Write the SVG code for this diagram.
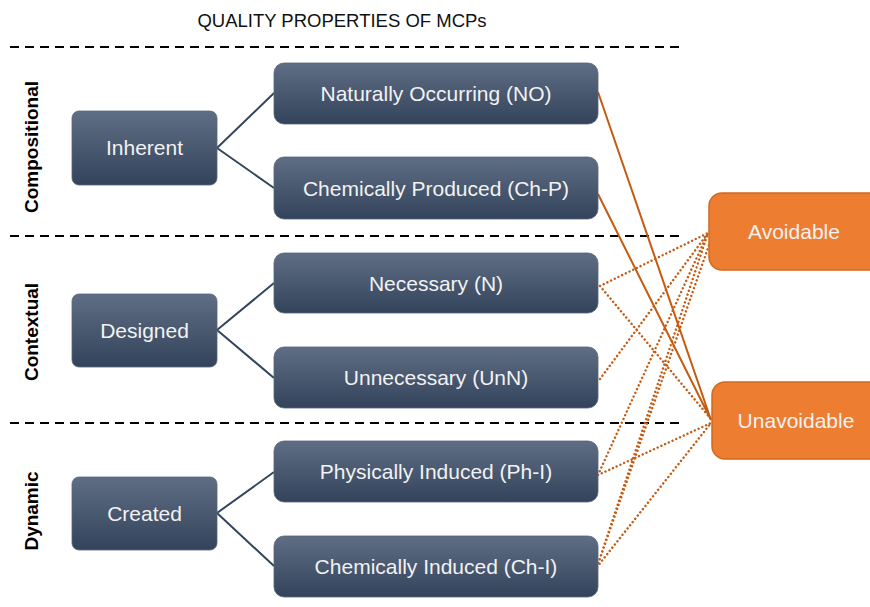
<svg xmlns="http://www.w3.org/2000/svg" width="870" height="607" viewBox="0 0 870 607">
<defs>
<linearGradient id="g" x1="0" y1="0" x2="0" y2="1">
<stop offset="0" stop-color="#5f6e84"/>
<stop offset="1" stop-color="#33435b"/>
</linearGradient>
<style>
.dk{fill:url(#g);stroke:#56657a;stroke-width:0.8}
.or{fill:#ed7d31;stroke:#d2691e;stroke-width:1.5}
.t{font-family:"Liberation Sans",Arial,sans-serif;font-size:21px;fill:#f2f2f2;text-anchor:middle}
.side{font-family:"Liberation Sans",Arial,sans-serif;font-size:19px;font-weight:bold;fill:#000;text-anchor:middle}
.dash{stroke:#000;stroke-width:2;stroke-dasharray:9 6;fill:none}
.tree{stroke:#34455e;stroke-width:2;fill:none}
.sol{stroke:#c55a11;stroke-width:2;fill:none}
.dot{stroke:#c55a11;stroke-width:2.4;stroke-dasharray:0.1 4;stroke-linecap:round;fill:none}
</style>
</defs>
<rect width="870" height="607" fill="#fff"/>
<text x="342" y="27" font-family="Liberation Sans,Arial,sans-serif" font-size="18.5" fill="#111" text-anchor="middle">QUALITY PROPERTIES OF MCPs</text>
<g id="separators">
<line class="dash" x1="10" y1="47" x2="680" y2="47"/>
<line class="dash" x1="10" y1="236" x2="682" y2="236"/>
<line class="dash" x1="10" y1="423" x2="680" y2="423"/>
</g>
<g id="side-labels">
<text class="side" transform="translate(38,147) rotate(-90)">Compositional</text>
<text class="side" transform="translate(38,332) rotate(-90)">Contextual</text>
<text class="side" transform="translate(38,511) rotate(-90)">Dynamic</text>
</g>
<g id="connectors">
<path class="tree" d="M217,148 L274,93 M217,148 L274,188 M217,330 L274,283 M217,330 L274,378 M217,513 L274,472 M217,513 L274,566"/>
<path class="sol" d="M598,92 L711,420 M598,194 L711,420"/>
<path class="dot" d="M600,286 L708,233 M600,286 L711,419 M600,379 L708,233 M598,475 L708,233 M598,475 L711,423 M597,567 L708,233 M597,567 L709,245 M597,567 L711,423"/>
</g>
<g id="inherent"><rect class="dk" x="72" y="111" width="145" height="74" rx="7"/><text class="t" x="144.5" y="155">Inherent</text></g>
<g id="designed"><rect class="dk" x="72" y="294" width="145" height="73" rx="7"/><text class="t" x="144.5" y="338">Designed</text></g>
<g id="created"><rect class="dk" x="72" y="477" width="145" height="73" rx="7"/><text class="t" x="144.5" y="521">Created</text></g>
<g id="no"><rect class="dk" x="274" y="63" width="324" height="61" rx="10"/><text class="t" x="436" y="101">Naturally Occurring (NO)</text></g>
<g id="chp"><rect class="dk" x="274" y="157" width="324" height="62" rx="10"/><text class="t" x="436" y="195.5">Chemically Produced (Ch-P)</text></g>
<g id="n"><rect class="dk" x="274" y="253" width="324" height="60" rx="10"/><text class="t" x="436" y="290.5">Necessary (N)</text></g>
<g id="unn"><rect class="dk" x="274" y="347" width="324" height="61" rx="10"/><text class="t" x="436" y="385">Unnecessary (UnN)</text></g>
<g id="phi"><rect class="dk" x="274" y="441" width="324" height="61" rx="10"/><text class="t" x="436" y="479">Physically Induced (Ph-I)</text></g>
<g id="chi"><rect class="dk" x="274" y="536" width="324" height="61" rx="10"/><text class="t" x="436" y="574">Chemically Induced (Ch-I)</text></g>
<g id="avoidable"><rect class="or" x="709" y="193" width="175" height="77" rx="13"/><text class="t" x="794" y="239" fill="#fff">Avoidable</text></g>
<g id="unavoidable"><rect class="or" x="712" y="382" width="172" height="77" rx="13"/><text class="t" x="796" y="428" fill="#fff">Unavoidable</text></g>
</svg>
